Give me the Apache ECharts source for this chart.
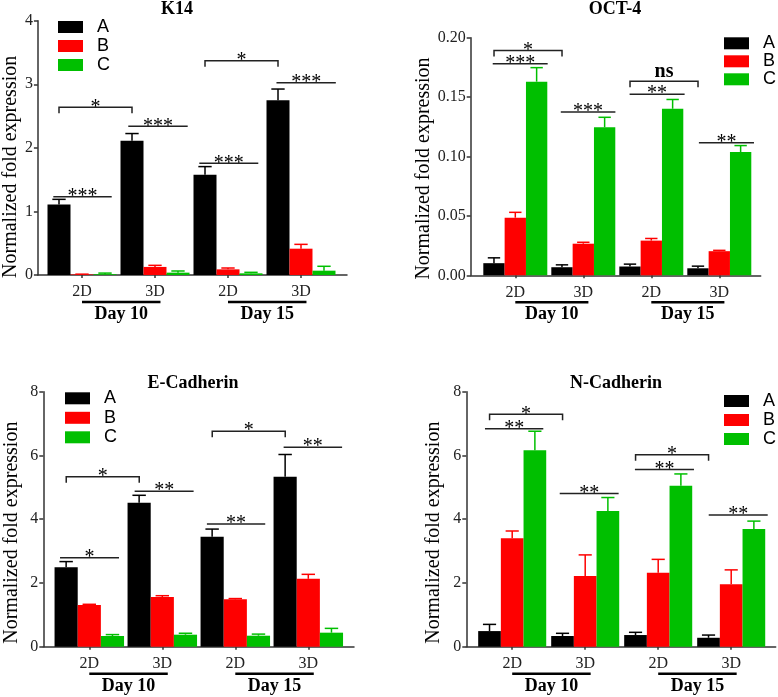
<!DOCTYPE html>
<html><head><meta charset="utf-8">
<script src="https://cdn.jsdelivr.net/npm/echarts@6/dist/echarts.min.js"></script>
<style>html,body{margin:0;padding:0;background:#fff}#c{width:778px;height:697px}</style>
</head><body><div id="c"></div>
<script>
// ---------- data ----------
const groups = ['2D', '3D', '2D', '3D'];
const days = ['Day 10', 'Day 15'];
const seriesNames = ['A', 'B', 'C'];

const k14A = [1.11, 2.11, 1.575, 2.75];
const k14AErr = [0.08, 0.115, 0.13, 0.175];
const k14B = [0.008, 0.127, 0.089, 0.414];
const k14BErr = [0.005, 0.025, 0.021, 0.068];
const k14C = [0.012, 0.037, 0.026, 0.068];
const k14CErr = [0.018, 0.026, 0.016, 0.069];

const oct4A = [0.0102, 0.0068, 0.0074, 0.0059];
const oct4AErr = [0.0045, 0.002, 0.002, 0.0018];
const oct4B = [0.0485, 0.0266, 0.0292, 0.0203];
const oct4BErr = [0.0045, 0.0012, 0.0018, 0.0007];
const oct4C = [0.163, 0.1246, 0.1402, 0.1037];
const oct4CErr = [0.0118, 0.0084, 0.0078, 0.0055];

const ecadA = [2.49, 4.52, 3.45, 5.33];
const ecadAErr = [0.18, 0.23, 0.24, 0.70];
const ecadB = [1.31, 1.56, 1.485, 2.13];
const ecadBErr = [0.02, 0.04, 0.025, 0.14];
const ecadC = [0.335, 0.377, 0.345, 0.44];
const ecadCErr = [0.045, 0.045, 0.05, 0.135];

const ncadA = [0.49, 0.335, 0.366, 0.28];
const ncadAErr = [0.21, 0.085, 0.085, 0.085];
const ncadB = [3.40, 2.22, 2.32, 1.96];
const ncadBErr = [0.23, 0.66, 0.42, 0.45];
const ncadC = [6.16, 4.26, 5.05, 3.69];
const ncadCErr = [0.6, 0.42, 0.37, 0.25];

// significance marks: [from (category units), to (category units), level, label, bracket?]
const k14Sig = [
  [-0.393, 0.407, 1.231, '***', 0],
  [-0.315, 0.685, 2.637, '*', 1],
  [0.634, 1.448, 2.338, '***', 0],
  [1.607, 2.415, 1.756, '***', 0],
  [1.685, 2.685, 3.37, '*', 1],
  [2.664, 3.477, 3.024, '***', 0]
];
const oct4Sig = [
  [-0.313, 0.687, 0.1892, '*', 1],
  [-0.332, 0.476, 0.178, '***', 0],
  [0.669, 1.472, 0.1375, '***', 0],
  [1.687, 2.687, 0.1633, 'ns', 1],
  [1.681, 2.490, 0.1524, '**', 0],
  [2.70, 3.51, 0.1116, '**', 0]
];
const ecadSig = [
  [-0.401, 0.407, 2.79, '*', 0],
  [-0.316, 0.684, 5.33, '*', 1],
  [0.621, 1.429, 4.88, '**', 0],
  [1.611, 2.41, 3.85, '**', 0],
  [1.684, 2.684, 6.76, '*', 1],
  [2.662, 3.463, 6.26, '**', 0]
];
const ncadSig = [
  [-0.31, 0.69, 7.29, '*', 1],
  [-0.373, 0.426, 6.84, '**', 0],
  [0.651, 1.458, 4.81, '**', 0],
  [1.69, 2.69, 6.02, '*', 1],
  [1.681, 2.49, 5.56, '**', 0],
  [2.692, 3.5, 4.13, '**', 0]
];

// ---------- styling / layout ----------
const SERIF = '"Liberation Serif","Times New Roman",serif';
const SANS = '"Liberation Sans",Arial,sans-serif';
const colors = ['#000000', '#fe0000', '#00bf00'];
const AXIS = '#333333';

const panels = [
  { title: 'K14', titleX: 177, titleTop: 0,
    frame: { left: 36, top: 20.7, width: 311, height: 254.3 }, barLeft: 45.5, barWidth: 292, gap: 0.055,
    max: 4, interval: 1, dec: 0, nameGap: 16, namePad: 38,
    legend: { left: 58, top: 18, gap: 1 },
    vals: [k14A, k14B, k14C], errs: [k14AErr, k14BErr, k14CErr], sig: k14Sig },
  { title: 'OCT-4', titleX: 615, titleTop: 0,
    frame: { left: 470.7, top: 37.7, width: 290, height: 237.6 }, barLeft: 481.3, barWidth: 272, gap: 0.059,
    max: 0.2, interval: 0.05, dec: 2, nameGap: 28, namePad: 24,
    legend: { left: 724, top: 34.3, gap: 0 },
    vals: [oct4A, oct4B, oct4C], errs: [oct4AErr, oct4BErr, oct4CErr], sig: oct4Sig },
  { title: 'E-Cadherin', titleX: 193, titleTop: 374,
    frame: { left: 43.3, top: 391.7, width: 310.7, height: 255 }, barLeft: 52.8, barWidth: 292, gap: 0.048,
    max: 8, interval: 2, dec: 0, nameGap: 22, namePad: 27,
    legend: { left: 65, top: 389.3, gap: 1.5 },
    vals: [ecadA, ecadB, ecadC], errs: [ecadAErr, ecadBErr, ecadCErr], sig: ecadSig },
  { title: 'N-Cadherin', titleX: 616, titleTop: 374,
    frame: { left: 466.3, top: 391.7, width: 309.4, height: 255 }, barLeft: 475.7, barWidth: 292, gap: 0.068,
    max: 8, interval: 2, dec: 0, nameGap: 23, namePad: 27,
    legend: { left: 724, top: 392, gap: 1 },
    vals: [ncadA, ncadB, ncadC], errs: [ncadAErr, ncadBErr, ncadCErr], sig: ncadSig }
];

const option = {
  animation: false,
  backgroundColor: '#fff',
  textStyle: { fontFamily: SERIF },
  title: [], legend: [], grid: [], xAxis: [], yAxis: [], series: []
};

function errRender(k, gap, color) {
  return function (params, api) {
    const band = api.size([1, 0])[0];
    const bw = band * (1 - gap) / 3;
    const i = api.value(0);
    const base = api.coord([i, api.value(1)]);
    const top = api.coord([i, api.value(1) + api.value(2)]);
    const x = base[0] + (k - 1) * bw;
    const cap = bw * 0.29;
    return { type: 'group', children: [
      { type: 'line', shape: { x1: x, y1: base[1], x2: x, y2: top[1] }, style: { stroke: color, lineWidth: 1.5 } },
      { type: 'line', shape: { x1: x - cap, y1: top[1], x2: x + cap, y2: top[1] }, style: { stroke: color, lineWidth: 1.5 } }
    ] };
  };
}

function sigRender(sig) {
  return function (params, api) {
    const s = sig[params.dataIndex];
    const band = api.size([1, 0])[0];
    const o = api.coord([0, api.value(1)]);
    const x1 = o[0] + s[0] * band, x2 = o[0] + s[1] * band, y = o[1];
    const ch = [];
    if (s[4]) {
      ch.push({ type: 'polyline', shape: { points: [[x1, y + 6], [x1, y], [x2, y], [x2, y + 6]] },
        style: { stroke: '#222', lineWidth: 1.5, fill: null } });
    } else {
      ch.push({ type: 'line', shape: { x1: x1, y1: y, x2: x2, y2: y }, style: { stroke: '#222', lineWidth: 1.5 } });
    }
    const ns = s[3] === 'ns';
    ch.push({ type: 'text', x: (x1 + x2) / 2, y: y + (ns ? 1 : 10),
      style: { text: s[3], fontSize: 20, fontWeight: ns ? 'bold' : 'normal', fontFamily: SERIF,
        fill: '#000', align: 'center', verticalAlign: 'bottom' } });
    return { type: 'group', children: ch };
  };
}

function dayRender(params, api) {
  const band = api.size([1, 0])[0];
  const a = api.coord([api.value(0), 0]);
  const b = api.coord([api.value(1), 0]);
  const x1 = a[0], x2 = b[0] + 0.075 * band, y = a[1];
  return { type: 'group', children: [
    { type: 'line', shape: { x1: x1, y1: y + 27, x2: x2, y2: y + 27 }, style: { stroke: '#000', lineWidth: 2.5 } },
    { type: 'text', x: (x1 + x2) / 2, y: y + 39.5,
      style: { text: days[params.dataIndex], fontSize: 18, fontWeight: 'bold', fontFamily: SERIF,
        fill: '#000', align: 'center', verticalAlign: 'middle' } }
  ] };
}

panels.forEach((p, pi) => {
  const gFrame = pi * 2, gBar = pi * 2 + 1;
  option.title.push({ text: p.title, left: p.titleX, top: p.titleTop, textAlign: 'center', padding: 0,
    textStyle: { fontFamily: SERIF, fontWeight: 'bold', fontSize: 18, color: '#000' } });
  option.legend.push({ data: seriesNames, orient: 'vertical', left: p.legend.left, top: p.legend.top,
    itemWidth: 25, itemHeight: 12, itemGap: p.legend.gap, icon: 'rect', padding: 0, selectedMode: false,
    textStyle: { fontFamily: SANS, fontSize: 18, color: '#000', lineHeight: 18, padding: [0, 0, 0, 9] } });
  option.grid.push({ left: p.frame.left, top: p.frame.top, width: p.frame.width, height: p.frame.height, containLabel: false });
  option.grid.push({ left: p.barLeft, top: p.frame.top, width: p.barWidth, height: p.frame.height, containLabel: false });
  // frame axes
  option.xAxis.push({ gridIndex: gFrame, type: 'value', min: 0, max: 1,
    axisLine: { show: true, lineStyle: { color: AXIS, width: 1.5 } }, axisTick: { show: false },
    axisLabel: { show: false }, splitLine: { show: false } });
  option.yAxis.push({ gridIndex: gFrame, type: 'value', min: 0, max: p.max, interval: p.interval,
    name: 'Normalized fold expression', nameLocation: 'middle', nameGap: p.nameGap,
    nameTextStyle: { fontFamily: SERIF, fontSize: 20, color: '#000', padding: [0, p.namePad, 0, 0] },
    axisLine: { show: true, lineStyle: { color: AXIS, width: 1.5 } },
    axisTick: { show: true, length: 4, lineStyle: { color: AXIS, width: 1.5 } },
    axisLabel: { fontFamily: SERIF, fontSize: 16, color: '#222', margin: 5,
      formatter: v => v.toFixed(p.dec) },
    splitLine: { show: false } });
  // bar axes
  option.xAxis.push({ gridIndex: gBar, type: 'category', data: groups,
    axisLine: { show: false }, axisTick: { show: true, alignWithLabel: true, length: 3, lineStyle: { color: AXIS, width: 1.5 } },
    axisLabel: { fontFamily: SERIF, fontSize: 16, color: '#222', margin: 9 }, splitLine: { show: false } });
  option.yAxis.push({ gridIndex: gBar, type: 'value', min: 0, max: p.max, show: false, splitLine: { show: false } });

  p.vals.forEach((arr, k) => {
    option.series.push({ type: 'bar', name: seriesNames[k], xAxisIndex: gBar, yAxisIndex: gBar,
      data: arr, barGap: '0%', barCategoryGap: (p.gap * 100) + '%', itemStyle: { color: colors[k] } });
  });
  p.vals.forEach((arr, k) => {
    option.series.push({ type: 'custom', xAxisIndex: gBar, yAxisIndex: gBar, z: 3,
      renderItem: errRender(k, p.gap, colors[k]),
      data: arr.map((v, i) => [i, v, p.errs[k][i]]) });
  });
  option.series.push({ type: 'custom', xAxisIndex: gBar, yAxisIndex: gBar, z: 4,
    renderItem: sigRender(p.sig), data: p.sig.map(s => [0, s[2]]) });
  option.series.push({ type: 'custom', xAxisIndex: gBar, yAxisIndex: gBar, z: 4,
    renderItem: dayRender, data: days.map((d, i) => [i * 2, i * 2 + 1]) });
});

const chart = echarts.init(document.getElementById('c'), null, { renderer: 'canvas' });
chart.setOption(option);
</script>
</body></html>
